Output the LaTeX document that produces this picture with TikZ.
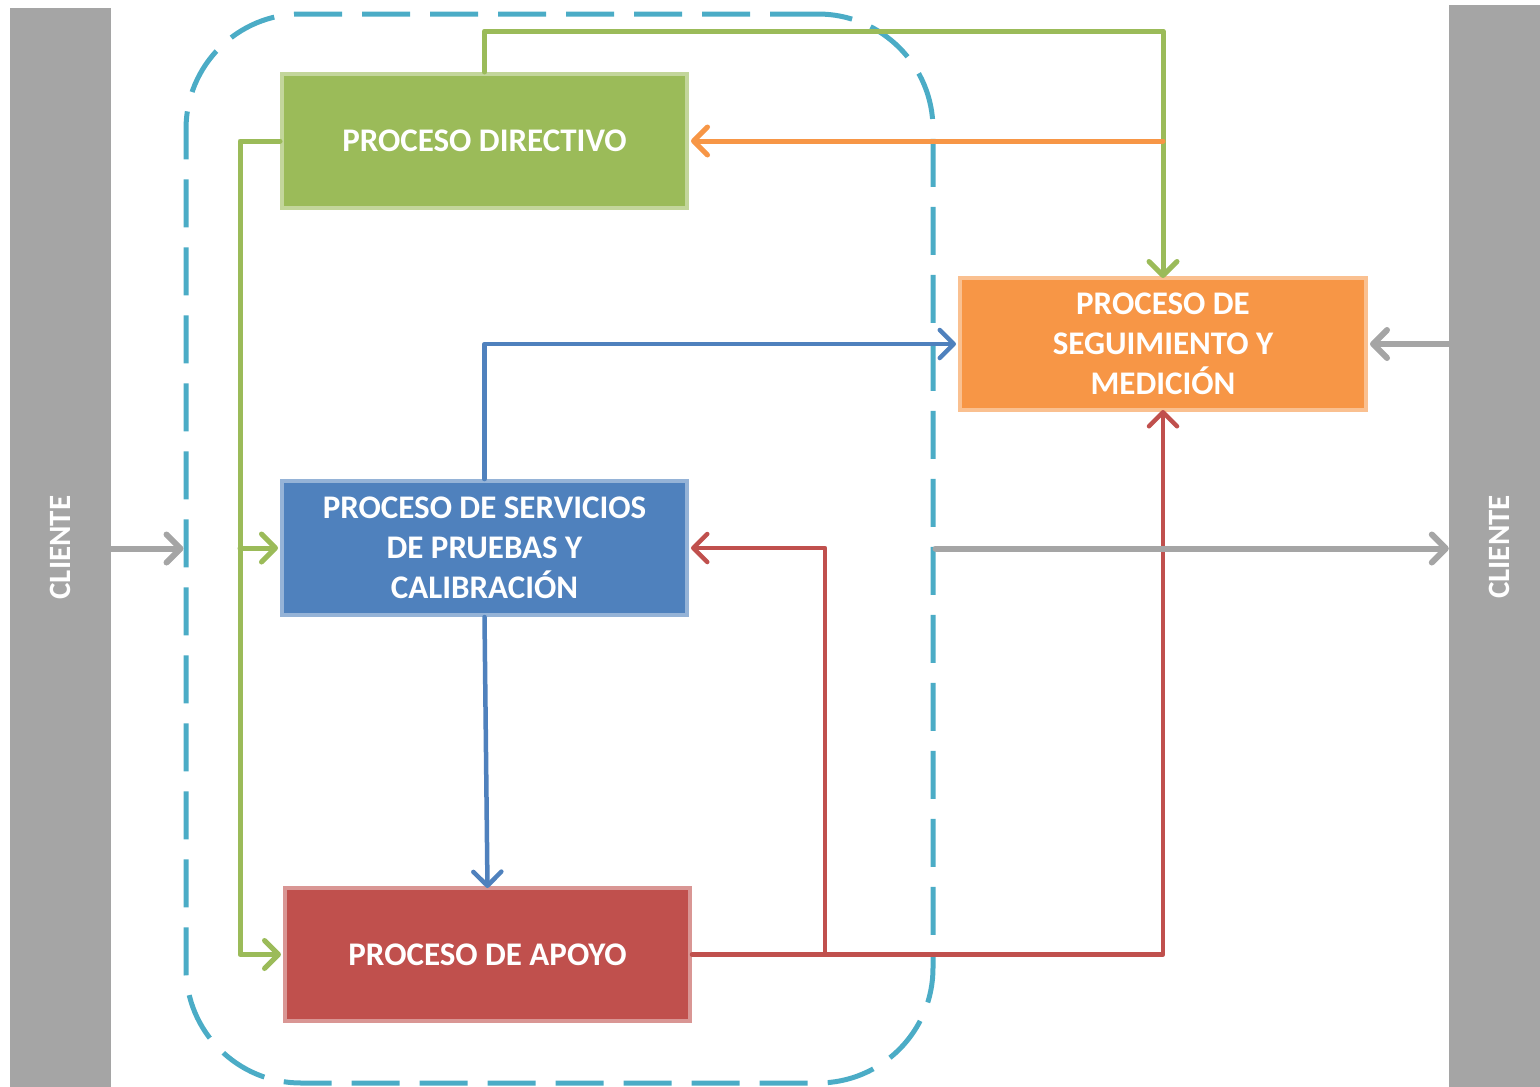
\documentclass[tikz,border=0pt]{standalone}
\usepackage{fontspec}
\setmainfont{Carlito}
\usetikzlibrary{arrows.meta}
\definecolor{cgray}{HTML}{A5A5A5}
\definecolor{cgreen}{HTML}{9BBB59}
\definecolor{cgreenb}{HTML}{C3D69B}
\definecolor{corange}{HTML}{F79646}
\definecolor{coranb}{HTML}{FAC090}
\definecolor{cblue}{HTML}{4F81BD}
\definecolor{cblueb}{HTML}{95B3D7}
\definecolor{cred}{HTML}{C0504D}
\definecolor{credb}{HTML}{D99694}
\definecolor{ccyan}{HTML}{4BACC6}
\begin{document}
\begin{tikzpicture}[x=1pt,y=-1pt,
  procbox/.style={rectangle, line width=4pt, text=white, align=center,
     font=\fontsize{33}{40}\selectfont\bfseries, inner sep=0pt},
  bar/.style={rectangle, fill=cgray, draw=none, inner sep=0pt},
  conn/.style={line width=5pt, line cap=round, line join=round,
     -{Straight Barb[round,length=14pt,width=28pt]}},
  plain/.style={line width=5pt, line cap=round, line join=round}]
\useasboundingbox (0,0) rectangle (1540,1087);
% client bars
\node[bar, minimum width=101pt, minimum height=1079pt] (cll) at (60.5,547.5) {};
\node[bar, minimum width=91pt, minimum height=1082pt] (clr) at (1494.5,546) {};
\node[text=white, rotate=90, font=\fontsize{31}{36}\selectfont\bfseries] (tl) at (cll.center) {CLIENTE};
\node[text=white, rotate=90, font=\fontsize{31}{36}\selectfont\bfseries] (tr) at (1499,547) {CLIENTE};
% dashed container
\node[rectangle, draw=ccyan, line width=5pt, dash pattern=on 48pt off 20pt,
      rounded corners=115pt, minimum width=747pt, minimum height=1069pt,
      inner sep=0pt] (cont) at (559.5,548.5) {};
% process boxes
\node[procbox, fill=cgreen, draw=cgreenb, minimum width=405pt, minimum height=134pt] (dir) at (484.5,141) {PROCESO DIRECTIVO};
\node[procbox, fill=corange, draw=coranb, minimum width=406pt, minimum height=132pt] (seg) at (1163,344) {PROCESO DE\\SEGUIMIENTO Y\\MEDICIÓN};
\node[procbox, fill=cblue, draw=cblueb, minimum width=405pt, minimum height=134pt] (pru) at (484.5,548) {PROCESO DE SERVICIOS\\DE PRUEBAS Y\\CALIBRACIÓN};
\node[procbox, fill=cred, draw=credb, minimum width=405pt, minimum height=133pt] (apo) at (487.5,954.5) {PROCESO DE APOYO};
% coordinates
\coordinate (gtop) at (1163,31);
\coordinate (oj) at (1163,141);
\coordinate (gl) at (240,141);
\coordinate (rj) at (825,954.5);
% green connectors
\draw[conn, draw=cgreen] (dir.north) |- (gtop) -- ([yshift=-2pt]seg.north);
\draw[conn, draw=cgreen] (dir.west) -- (gl) |- ([xshift=-2pt]apo.west);
\draw[conn, draw=cgreen] (gl |- pru.west) -- ([xshift=-2pt]pru.west);
% orange connector
\draw[conn, draw=corange] (oj) -- ([xshift=2pt]dir.east);
% blue connectors
\draw[conn, draw=cblue, line width=4.5pt] (pru.north) |- ([xshift=-2pt]seg.west);
\draw[conn, draw=cblue, line width=4.5pt] (pru.south) -- ([yshift=-2pt]apo.north);
% red connectors
\draw[conn, draw=cred, line width=4.5pt] (apo.east) -| ([yshift=2pt]seg.south);
\draw[conn, draw=cred, line width=4.5pt] (rj) |- ([xshift=2pt]pru.east);
% gray connectors
\draw[conn, draw=cgray, line width=6pt] (cll.east |- cont.west) -- (cont.west);
\draw[conn, draw=cgray, line width=6pt] (clr.west |- seg.east) -- ([xshift=2pt]seg.east);
\draw[conn, draw=cgray, line width=6pt] (cont.east) -- (clr.west |- cont.east);
\end{tikzpicture}
\end{document}
